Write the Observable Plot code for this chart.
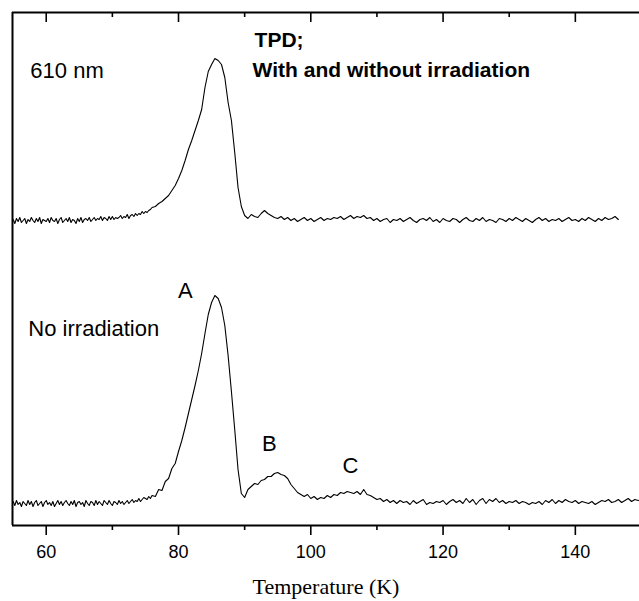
<!DOCTYPE html>
<html>
<head>
<meta charset="utf-8">
<script src="https://cdn.jsdelivr.net/npm/d3@7"></script>
<script src="https://cdn.jsdelivr.net/npm/@observablehq/plot@0.6"></script>
<style>
  html, body { margin: 0; padding: 0; background: #fff; }
  #chart svg { display: block; }
</style>
</head>
<body>
<div id="chart"></div>
<script>
// Temperature grid (K) at which both traces were read
const temperature = [
  55, 55.25, 55.5, 55.75, 56, 56.25, 56.5, 56.75, 57, 57.25, 57.5, 57.75,
  58, 58.25, 58.5, 58.75, 59, 59.25, 59.5, 59.75, 60, 60.25, 60.5, 60.75,
  61, 61.25, 61.5, 61.75, 62, 62.25, 62.5, 62.75, 63, 63.25, 63.5, 63.75,
  64, 64.25, 64.5, 64.75, 65, 65.25, 65.5, 65.75, 66, 66.25, 66.5, 66.75,
  67, 67.25, 67.5, 67.75, 68, 68.25, 68.5, 68.75, 69, 69.25, 69.5, 69.75,
  70, 70.25, 70.5, 70.75, 71, 71.25, 71.5, 71.75, 72, 72.25, 72.5, 72.75,
  73, 73.25, 73.5, 73.75, 74, 74.25, 74.5, 74.75, 75, 75.25, 75.5, 75.75,
  76, 76.5, 77, 77.5, 78, 78.5, 79, 79.5,
  80, 80.5, 81, 81.5, 82, 82.5, 83, 83.5, 84, 84.5,
  85, 85.5, 86, 86.5, 87, 87.5, 88, 88.5, 89, 89.5,
  90, 90.5, 91, 91.5, 92, 92.5, 93, 93.5, 94, 94.5,
  95, 95.5, 96, 96.5, 97, 97.5, 98, 98.5, 99, 99.5,
  100, 100.5, 101, 101.5, 102, 102.5, 103, 103.5, 104, 104.5,
  105, 105.5, 106, 106.5, 107, 107.5, 108, 108.5, 109, 109.5,
  110, 110.5, 111, 111.5, 112, 112.5, 113, 113.5, 114, 114.5,
  115, 115.5, 116, 116.5, 117, 117.5, 118, 118.5, 119, 119.5,
  120, 120.5, 121, 121.5, 122, 122.5, 123, 123.5, 124, 124.5,
  125, 125.5, 126, 126.5, 127, 127.5, 128, 128.5, 129, 129.5,
  130, 130.5, 131, 131.5, 132, 132.5, 133, 133.5, 134, 134.5,
  135, 135.5, 136, 136.5, 137, 137.5, 138, 138.5, 139, 139.5,
  140, 140.5, 141, 141.5, 142, 142.5, 143, 143.5, 144, 144.5,
  145, 145.5, 146, 146.5, 147, 147.5, 148, 148.5, 149, 149.5,
  150
];

// TPD signal, no irradiation (arbitrary units above its baseline)
const noIrradiation = [
  2, -2, 3, -1, 1, -3, 2, 0, -2, 3, -1, 2,
  -3, 1, 3, -2, 0, 2, -3, 1, 3, -1, 1, -2,
  2, -3, 0, 3, -1, 2, -2, 1, 3, 0, -2, 2,
  -1, 3, -3, 1, 2, -1, 1, -3, 3, 0, -2, 2,
  1, -2, 3, -1, 2, 0, -2, 3, 1, -1, 3, 0,
  -2, 2, 1, -1, 3, 0, 2, -1, 1, 3, 0, 2,
  4, 1, 3, 2, 5, 2, 4, 6, 5, 4, 7, 5,
  8, 7, 14, 13, 22, 25, 35, 40,
  52, 63, 76, 90, 104, 118, 133, 150, 170, 189,
  201, 208, 205, 196, 178, 148, 112, 74, 34, 10,
  6, 14, 17, 20, 19, 23, 24, 27, 27, 30,
  31, 29, 28, 25, 19, 15, 11, 9, 7, 9,
  5, 7, 4, 6, 5, 8, 6, 9, 8, 11,
  10, 12, 11, 10, 12, 9, 14, 9, 8, 6,
  4, 5, 2, 4, 1, 3, 0, 3, 1, 2,
  -1, 3, 0, 2, 4, -1, 1, 0, 2, 1,
  3, -1, 2, 4, 1, 3, 0, 5, 1, 4,
  -1, 3, 5, 0, 4, 2, 5, 1, 3, 0,
  2, 1, 3, 0, 2, 1, -1, 1, 0, 2,
  -1, 3, 1, 4, 0, 3, 1, 4, 2, 1,
  3, 0, 2, 1, 0, 2, -1, 1, 3, 2,
  4, 1, 2, 4, 1, 3, 5, 2, 4, 3,
  4
];

// TPD signal after 610 nm irradiation (arbitrary units above its baseline)
const irradiated610 = [
  1, -3, 2, -1, 3, -2, 0, 2, -3, 1, -1, 3,
  0, -2, 2, -1, 3, -3, 1, 0, -1, 2, -2, 3,
  0, -1, 2, -3, 1, 3, -2, 0, 2, -1, 3, -2,
  1, 0, -3, 2, -1, 3, -2, 1, 2, 0, 3, -1,
  1, 3, 0, 2, 1, 4, 0, 3, 2, 0, 4, 1,
  4, 1, 3, 2, 3, 5, 2, 4, 3, 6, 2, 5,
  6, 4, 7, 5, 7, 6, 9, 7, 9, 8, 10, 11,
  13, 14, 17, 19, 22, 25, 30, 35,
  42, 50, 60, 71, 80, 90, 100, 111, 133, 149,
  156, 162, 160, 156, 143, 118, 100, 68, 33, 14,
  5, 2, 6, 4, 3, 7, 10, 7, 5, 3,
  2, 4, 1, 3, 0, 2, -1, 1, 3, 0,
  2, -1, 1, 3, 0, 2, 1, 3, 2, 4,
  1, 3, 5, 2, 4, 3, 5, 2, 3, 0,
  2, -1, 1, 2, -2, 1, 0, 2, -1, 1,
  3, 0, -2, 1, 2, 0, 3, -1, 1, -2,
  2, 0, -1, 2, 1, -2, 1, 3, 0, -1,
  2, 0, 3, -1, 1, 0, -2, 2, 1, -1,
  2, 0, 3, 1, -1, 2, 0, -2, 1, 3,
  0, 2, -1, 1, 0, 2, -1, 1, 3, 0,
  1, -1, 2, 0, 3, 1, -1, 2, 0, 3,
  1, 2, 4, 1
];

// vertical offset of the 610 nm trace in the stacked display
const upperOffset = 283;

const xDomain = [54.9, 149.7];
const yDomain = [-22, 491];
const majorTicks = [60, 80, 100, 120, 140];
const minorTicks = [70, 90, 110, 130];
const xTitle = "Temperature (K)";

// annotation labels, anchored in data coordinates (K, signal units)
const traceLabels = [
  {text: "610 nm", T: 57.6, y: 433},
  {text: "No irradiation", T: 57.3, y: 175}
];
const titleLabels = [
  {text: "TPD;", T: 91.5, y: 463},
  {text: "With and without irradiation", T: 91.2, y: 433}
];
const peakLabels = [
  {text: "A", T: 81.05, y: 213},
  {text: "B", T: 93.75, y: 60},
  {text: "C", T: 106.0, y: 38}
];

const lower = noIrradiation.map((v, i) => ({T: temperature[i], v}));
const upper = irradiated610.map((v, i) => ({T: temperature[i], v: v + upperOffset}));

const W = 639, H = 601, mt = 12, mb = 76, ml = 12, mr = 0;
const innerH = H - mt - mb;
const sans = "'Liberation Sans', Arial, Helvetica, sans-serif";

const chart = Plot.plot({
  width: W,
  height: H,
  marginTop: mt,
  marginBottom: mb,
  marginLeft: ml,
  marginRight: mr,
  style: {background: "#fff", fontFamily: sans, color: "#000"},
  x: {domain: xDomain},
  y: {domain: yDomain, axis: null},
  marks: [
    Plot.line(lower, {x: "T", y: "v", stroke: "#000", strokeWidth: 1.1, clip: true}),
    Plot.line(upper, {x: "T", y: "v", stroke: "#000", strokeWidth: 1.1, clip: true}),
    // frame: top, bottom, left
    Plot.ruleY([yDomain[1]], {stroke: "#000", strokeWidth: 2}),
    Plot.ruleY([yDomain[0]], {stroke: "#000", strokeWidth: 2}),
    Plot.ruleX([xDomain[0]], {stroke: "#000", strokeWidth: 2}),
    // top inward ticks
    Plot.ruleX(majorTicks, {stroke: "#000", strokeWidth: 1.6, insetBottom: innerH - 10}),
    Plot.ruleX(minorTicks, {stroke: "#000", strokeWidth: 1.6, insetBottom: innerH - 5}),
    // bottom outward minor ticks
    Plot.ruleX(minorTicks, {stroke: "#000", strokeWidth: 1.6, insetTop: innerH, insetBottom: -5}),
    // bottom axis with labelled major ticks
    Plot.axisX(majorTicks, {anchor: "bottom", tickSize: 10, tickPadding: 10, fontSize: 18, strokeWidth: 1.6, label: null, fontFamily: sans}),
    Plot.text([xTitle], {frameAnchor: "bottom", dy: 61, lineAnchor: "middle", fontFamily: "'Liberation Serif', 'Times New Roman', serif", fontSize: 22, fill: "#000"}),
    Plot.text(traceLabels, {x: "T", y: "y", text: "text", textAnchor: "start", fontSize: 22, fill: "#000", fontFamily: sans}),
    Plot.text(titleLabels, {x: "T", y: "y", text: "text", textAnchor: "start", fontWeight: "bold", fontSize: 21, fill: "#000", fontFamily: sans}),
    Plot.text(peakLabels, {x: "T", y: "y", text: "text", textAnchor: "middle", fontSize: 22, fill: "#000", fontFamily: sans})
  ]
});

document.getElementById("chart").appendChild(chart);
</script>
</body>
</html>
